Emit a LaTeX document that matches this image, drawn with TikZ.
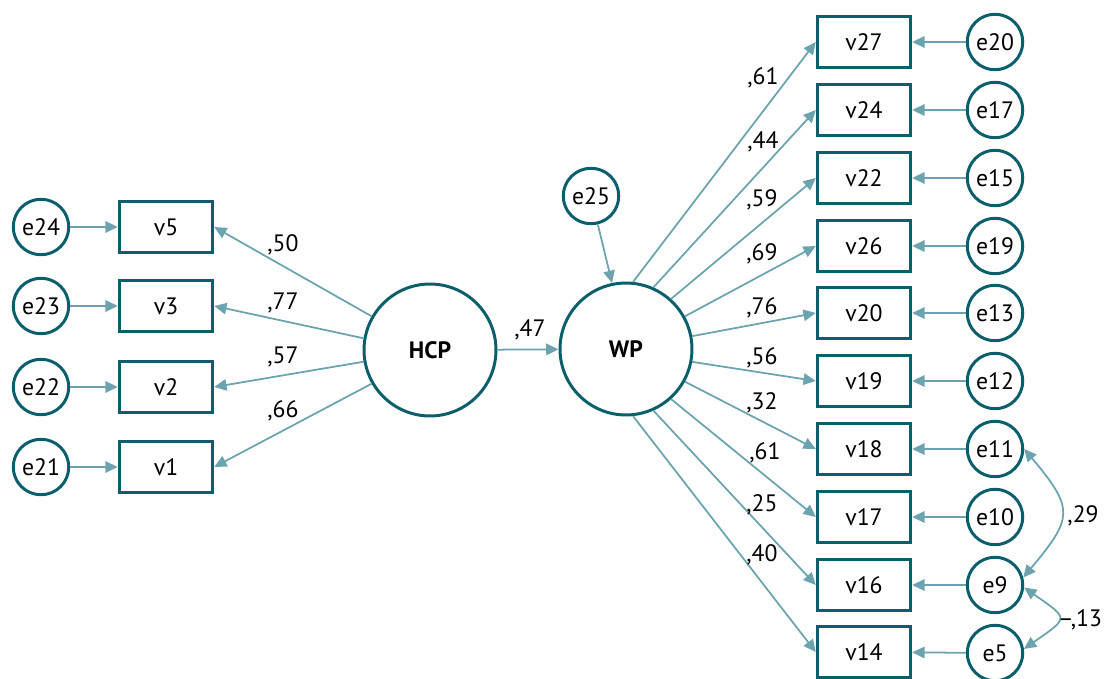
\documentclass[tikz,border=0pt]{standalone}
\usepackage{fontspec}
\setmainfont{PT Sans}
\usetikzlibrary{arrows.meta}

\definecolor{semline}{HTML}{0B5F6B}
\definecolor{semarrow}{HTML}{6BA4AE}

\begin{document}
\begin{tikzpicture}[x=0.02cm,y=-0.02cm,
    font=\fontsize{13.5}{16}\selectfont,
    obs/.style={draw=semline,line width=1.7pt,minimum width=1.87cm,
      minimum height=1.03cm,inner sep=0pt},
    err/.style={circle,draw=semline,line width=1.7pt,minimum size=1.11cm,
      inner sep=0pt},
    lat/.style={circle,draw=semline,line width=1.7pt,minimum size=2.64cm,
      font=\fontsize{13.5}{16}\selectfont\bfseries},
    path/.style={draw=semarrow,line width=1pt,
      -{Triangle[length=7pt,width=6.5pt]}},
    cov/.style={draw=semarrow,line width=1pt,
      {Triangle[length=7pt,width=6.5pt]}-{Triangle[length=7pt,width=6.5pt]}},
    coef/.style={inner sep=0pt}]

  \useasboundingbox (0,0) rectangle (1106,679);

  % latent variables
  \node[lat] (HCP) at (430,350) {HCP};
  \node[lat] (WP) at (626,349) {WP};
  \node[err] (e25) at (591,196) {e25};

  % left indicators
  \node[obs] (v5) at (166,227) {v5};
  \node[obs] (v3) at (166,306) {v3};
  \node[obs] (v2) at (166,387) {v2};
  \node[obs] (v1) at (166,467) {v1};
  \node[err] (e24) at (41,227) {e24};
  \node[err] (e23) at (41,306) {e23};
  \node[err] (e22) at (41,387) {e22};
  \node[err] (e21) at (41,467) {e21};

  % right indicators
  \node[obs] (v27) at (864,42) {v27};
  \node[obs] (v24) at (864,110) {v24};
  \node[obs] (v22) at (864,178) {v22};
  \node[obs] (v26) at (864,246) {v26};
  \node[obs] (v20) at (864,313) {v20};
  \node[obs] (v19) at (864,381) {v19};
  \node[obs] (v18) at (864,449) {v18};
  \node[obs] (v17) at (864,517) {v17};
  \node[obs] (v16) at (864,585) {v16};
  \node[obs] (v14) at (864,652) {v14};
  \node[err] (e20) at (995,42) {e20};
  \node[err] (e17) at (995,110) {e17};
  \node[err] (e15) at (995,178) {e15};
  \node[err] (e19) at (995,246) {e19};
  \node[err] (e13) at (995,313) {e13};
  \node[err] (e12) at (995,381) {e12};
  \node[err] (e11) at (995,449) {e11};
  \node[err] (e10) at (995,517) {e10};
  \node[err] (e9) at (995,585) {e9};
  \node[err] (e5) at (995,653) {e5};

  % loadings
  \draw[path] (HCP.150) -- (v5.east);
  \draw[path] (HCP.170) -- (v3.east);
  \draw[path] (HCP.190) -- (v2.east);
  \draw[path] (HCP.210) -- (v1.east);
  \draw[path] (HCP) -- (WP);
  \draw[path] (e25) -- (WP.102);
  \draw[path] (WP.84) -- (v27.west);
  \draw[path] (WP.66) -- (v24.west);
  \draw[path] (WP.48) -- (v22.west);
  \draw[path] (WP.29) -- (v26.west);
  \draw[path] (WP.11) -- (v20.west);
  \draw[path] (WP.-11) -- (v19.west);
  \draw[path] (WP.-29) -- (v18.west);
  \draw[path] (WP.-48) -- (v17.west);
  \draw[path] (WP.-66) -- (v16.west);
  \draw[path] (WP.-84) -- (v14.west);

  % errors
  \draw[path] (e24) -- (v5);
  \draw[path] (e23) -- (v3);
  \draw[path] (e22) -- (v2);
  \draw[path] (e21) -- (v1);
  \draw[path] (e20) -- (v27);
  \draw[path] (e17) -- (v24);
  \draw[path] (e15) -- (v22);
  \draw[path] (e19) -- (v26);
  \draw[path] (e13) -- (v20);
  \draw[path] (e12) -- (v19);
  \draw[path] (e11) -- (v18);
  \draw[path] (e10) -- (v17);
  \draw[path] (e9) -- (v16);
  \draw[path] (e5) -- (v14);
  \draw[cov] (e11.east) to[out=-50,in=50,looseness=1.55] (e9.15);
  \draw[cov] (e9.-5) to[out=-35,in=35,looseness=2.3] (e5.8);

  % coefficients
  \node[coef] (c50) at (283,245) {,50};
  \node[coef] (c77) at (283,303) {,77};
  \node[coef] (c57) at (283,357) {,57};
  \node[coef] (c66) at (283,411) {,66};
  \node[coef] (c47) at (530,330) {,47};
  \node[coef] (c61a) at (763,78) {,61};
  \node[coef] (c44) at (763,142) {,44};
  \node[coef] (c59) at (762,200) {,59};
  \node[coef] (c69) at (762,254) {,69};
  \node[coef] (c76) at (762,308) {,76};
  \node[coef] (c56) at (762,358) {,56};
  \node[coef] (c32) at (762,403) {,32};
  \node[coef] (c61b) at (765,453) {,61};
  \node[coef] (c25) at (762,505) {,25};
  \node[coef] (c40) at (762,555) {,40};
  \node[coef] (c29) at (1083,516) {,29};
  \node[coef] (c13) at (1080,620) {--,13};

\end{tikzpicture}
\end{document}
